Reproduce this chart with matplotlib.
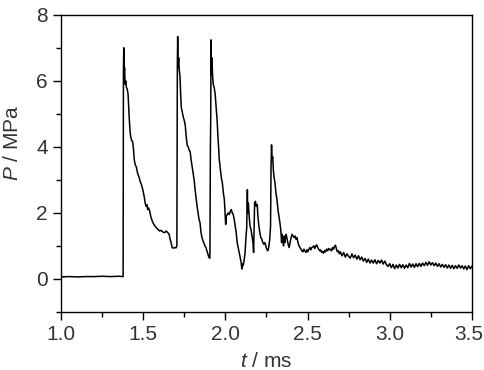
import numpy as np
import matplotlib
matplotlib.use('Agg')
import matplotlib.pyplot as plt
from matplotlib.ticker import MultipleLocator
from matplotlib.transforms import ScaledTranslation

# pressure trace, (t in ms, P in MPa), split by event
baseline = [(1.00, 0.06), (1.05, 0.07), (1.10, 0.06), (1.15, 0.07), (1.20, 0.07),
            (1.25, 0.08), (1.30, 0.07), (1.35, 0.08), (1.378, 0.07)]

pulse1 = [(1.380, 6.3), (1.382, 7.0), (1.384, 6.2), (1.387, 6.4), (1.390, 5.9),
          (1.394, 6.0), (1.398, 5.8), (1.403, 5.75), (1.408, 5.6), (1.412, 5.2),
          (1.416, 4.8), (1.420, 4.5), (1.424, 4.3), (1.430, 4.2), (1.436, 4.15),
          (1.440, 4.0), (1.446, 3.6), (1.452, 3.45), (1.458, 3.4), (1.466, 3.2),
          (1.474, 3.1), (1.482, 2.95), (1.490, 2.85), (1.498, 2.7), (1.506, 2.5),
          (1.512, 2.3), (1.518, 2.2), (1.523, 2.25), (1.527, 2.1), (1.533, 2.15),
          (1.540, 2.05), (1.546, 1.9), (1.552, 1.8), (1.558, 1.72), (1.565, 1.65),
          (1.572, 1.6), (1.580, 1.55), (1.590, 1.5), (1.600, 1.45), (1.610, 1.47),
          (1.620, 1.42), (1.630, 1.40), (1.640, 1.45), (1.650, 1.40), (1.658, 1.35),
          (1.664, 1.2), (1.670, 1.1), (1.676, 0.95), (1.684, 0.93), (1.692, 0.95),
          (1.700, 0.94), (1.705, 1.0)]

pulse2 = [(1.708, 6.5), (1.710, 7.34), (1.712, 6.4), (1.716, 6.7), (1.720, 6.3),
          (1.724, 6.15), (1.728, 5.6), (1.732, 5.2), (1.738, 5.05), (1.744, 4.9),
          (1.750, 4.8), (1.756, 4.65), (1.762, 4.3), (1.768, 4.05), (1.774, 4.0),
          (1.780, 3.9), (1.786, 3.85), (1.792, 3.6), (1.798, 3.4), (1.804, 3.2),
          (1.810, 3.0), (1.816, 2.7), (1.822, 2.45), (1.828, 2.2), (1.834, 2.0),
          (1.840, 1.8), (1.846, 1.7), (1.852, 1.4), (1.858, 1.25), (1.864, 1.15),
          (1.870, 1.08), (1.876, 1.0), (1.882, 0.95), (1.888, 0.85), (1.894, 0.75),
          (1.900, 0.65), (1.906, 0.63)]

pulse3 = [(1.909, 4.0), (1.911, 4.8), (1.913, 7.24), (1.915, 6.2), (1.918, 6.7),
          (1.922, 6.2), (1.926, 5.9), (1.932, 5.8), (1.938, 5.6), (1.944, 5.2),
          (1.950, 4.8), (1.955, 4.3), (1.960, 3.9), (1.963, 3.6), (1.966, 3.5),
          (1.970, 3.3), (1.976, 3.05), (1.982, 2.9), (1.988, 2.6), (1.994, 2.4),
          (1.998, 2.0), (2.002, 1.65), (2.006, 1.9), (2.012, 1.95), (2.018, 2.0),
          (2.024, 1.95), (2.030, 2.05), (2.036, 2.1), (2.042, 2.0), (2.048, 1.95),
          (2.054, 1.8), (2.060, 1.6), (2.066, 1.4), (2.072, 1.1), (2.078, 0.95),
          (2.084, 0.8), (2.090, 0.65), (2.096, 0.5), (2.100, 0.3), (2.104, 0.45),
          (2.108, 0.4), (2.114, 0.55), (2.120, 0.8)]

reflections = [(2.126, 1.3), (2.130, 1.55), (2.134, 2.7), (2.136, 2.0), (2.140, 2.3),
               (2.145, 1.9), (2.150, 1.6), (2.156, 1.5), (2.162, 1.3), (2.168, 1.1),
               (2.172, 0.8), (2.175, 1.6), (2.178, 2.3), (2.183, 2.35), (2.188, 2.2),
               (2.194, 2.25), (2.198, 1.9), (2.204, 1.6), (2.210, 1.4), (2.216, 1.25),
               (2.222, 1.2), (2.228, 1.1), (2.234, 1.05), (2.240, 1.1), (2.246, 1.0),
               (2.252, 0.9), (2.258, 0.85), (2.264, 0.95), (2.270, 1.2), (2.275, 1.6),
               (2.278, 3.4), (2.281, 4.06), (2.284, 3.6), (2.288, 3.7), (2.292, 3.3),
               (2.296, 3.1), (2.302, 2.9), (2.308, 2.6), (2.314, 2.4), (2.320, 2.1),
               (2.326, 1.9), (2.332, 1.7), (2.338, 1.45), (2.342, 1.1), (2.346, 1.35),
               (2.350, 1.2), (2.354, 1.0), (2.358, 1.3), (2.362, 1.1), (2.366, 1.25),
               (2.370, 1.35), (2.376, 1.2), (2.382, 1.05), (2.388, 0.95), (2.394, 1.1),
               (2.400, 1.25), (2.406, 1.35), (2.412, 1.3), (2.418, 1.25), (2.424, 1.3),
               (2.430, 1.2), (2.436, 1.25), (2.442, 1.1), (2.448, 1.0), (2.454, 0.95),
               (2.460, 0.9), (2.466, 0.85), (2.472, 0.82), (2.478, 0.9), (2.484, 0.85),
               (2.490, 0.8), (2.496, 0.88), (2.502, 0.82), (2.508, 0.9), (2.514, 0.95),
               (2.520, 0.88), (2.526, 0.95), (2.532, 0.97), (2.538, 1.0), (2.544, 0.92),
               (2.550, 1.0), (2.556, 1.03), (2.562, 0.95), (2.568, 0.9), (2.574, 0.85),
               (2.580, 0.88), (2.586, 0.8), (2.592, 0.83), (2.598, 0.78), (2.604, 0.86),
               (2.610, 0.82), (2.616, 0.9), (2.622, 0.85), (2.628, 0.92), (2.634, 0.88),
               (2.640, 0.9), (2.646, 0.85), (2.652, 0.95), (2.658, 0.9), (2.664, 0.98),
               (2.670, 1.02), (2.676, 0.9), (2.682, 0.82), (2.688, 0.85), (2.694, 0.76)]

tail = [(2.700, 0.82), (2.710, 0.70), (2.720, 0.80), (2.730, 0.66), (2.740, 0.76),
        (2.750, 0.68), (2.760, 0.63), (2.770, 0.76), (2.780, 0.64), (2.790, 0.72),
        (2.800, 0.60), (2.810, 0.70), (2.820, 0.58), (2.830, 0.66), (2.840, 0.54),
        (2.850, 0.62), (2.860, 0.50), (2.870, 0.60), (2.880, 0.48), (2.890, 0.57),
        (2.900, 0.48), (2.910, 0.58), (2.920, 0.46), (2.930, 0.56), (2.940, 0.48),
        (2.950, 0.57), (2.960, 0.45), (2.970, 0.54), (2.980, 0.43), (2.990, 0.38),
        (3.000, 0.46), (3.010, 0.34), (3.020, 0.44), (3.030, 0.31), (3.040, 0.42),
        (3.050, 0.33), (3.060, 0.44), (3.070, 0.34), (3.080, 0.43), (3.090, 0.32),
        (3.100, 0.42), (3.110, 0.34), (3.120, 0.47), (3.130, 0.36), (3.140, 0.45),
        (3.150, 0.35), (3.160, 0.46), (3.170, 0.37), (3.180, 0.47), (3.190, 0.38),
        (3.200, 0.48), (3.210, 0.40), (3.220, 0.50), (3.230, 0.41), (3.240, 0.52),
        (3.250, 0.42), (3.260, 0.49), (3.270, 0.40), (3.280, 0.48), (3.290, 0.38),
        (3.300, 0.46), (3.310, 0.36), (3.320, 0.44), (3.330, 0.35), (3.340, 0.43),
        (3.350, 0.33), (3.360, 0.42), (3.370, 0.32), (3.380, 0.41), (3.390, 0.31),
        (3.400, 0.40), (3.410, 0.32), (3.420, 0.42), (3.430, 0.33), (3.440, 0.40),
        (3.450, 0.30), (3.460, 0.39), (3.470, 0.28), (3.480, 0.40), (3.490, 0.31),
        (3.500, 0.38)]

xticks = [1.0, 1.5, 2.0, 2.5, 3.0, 3.5]
yticks = [0, 2, 4, 6, 8]

plt.rcParams['font.family'] = 'Liberation Sans'
plt.rcParams['mathtext.fontset'] = 'custom'
plt.rcParams['mathtext.it'] = 'Liberation Sans:italic'
plt.rcParams['mathtext.rm'] = 'Liberation Sans'
fs = 15

trace = np.array(baseline + pulse1 + pulse2 + pulse3 + reflections + tail)

fig = plt.figure(figsize=(4.84, 3.70), dpi=100)
ax = fig.add_axes([0.126, 0.157, 0.849, 0.803])
ax.plot(trace[:, 0], trace[:, 1], color='black', lw=1.1)

ax.set_xlim(1.0, 3.5)
ax.set_ylim(-1, 8)
ax.set_xticks(xticks)
ax.set_yticks(yticks)
ax.set_xticklabels(['%.1f' % v for v in xticks])
ax.xaxis.set_minor_locator(MultipleLocator(0.25))
ax.yaxis.set_minor_locator(MultipleLocator(1))

txt = '#333333'
ax.tick_params(which='major', direction='out', length=6, width=1, labelsize=fs,
               labelcolor=txt, pad=3.5)
ax.tick_params(which='minor', direction='out', length=3.5, width=1)
for s in ax.spines.values():
    s.set_linewidth(1.0)

# last x label sits right at the figure edge, pull it in a little
last = ax.get_xticklabels()[-1]
last.set_transform(last.get_transform() + ScaledTranslation(-3 / 100, 0, fig.dpi_scale_trans))

ax.set_xlabel(r'$\it{t}$ / ms', fontsize=fs, color=txt, labelpad=6)
ax.set_ylabel(r'$\it{P}$ / MPa', fontsize=fs, color=txt)
ax.yaxis.set_label_coords(-0.095, 0.57)

fig.savefig('out.png', dpi=100)
